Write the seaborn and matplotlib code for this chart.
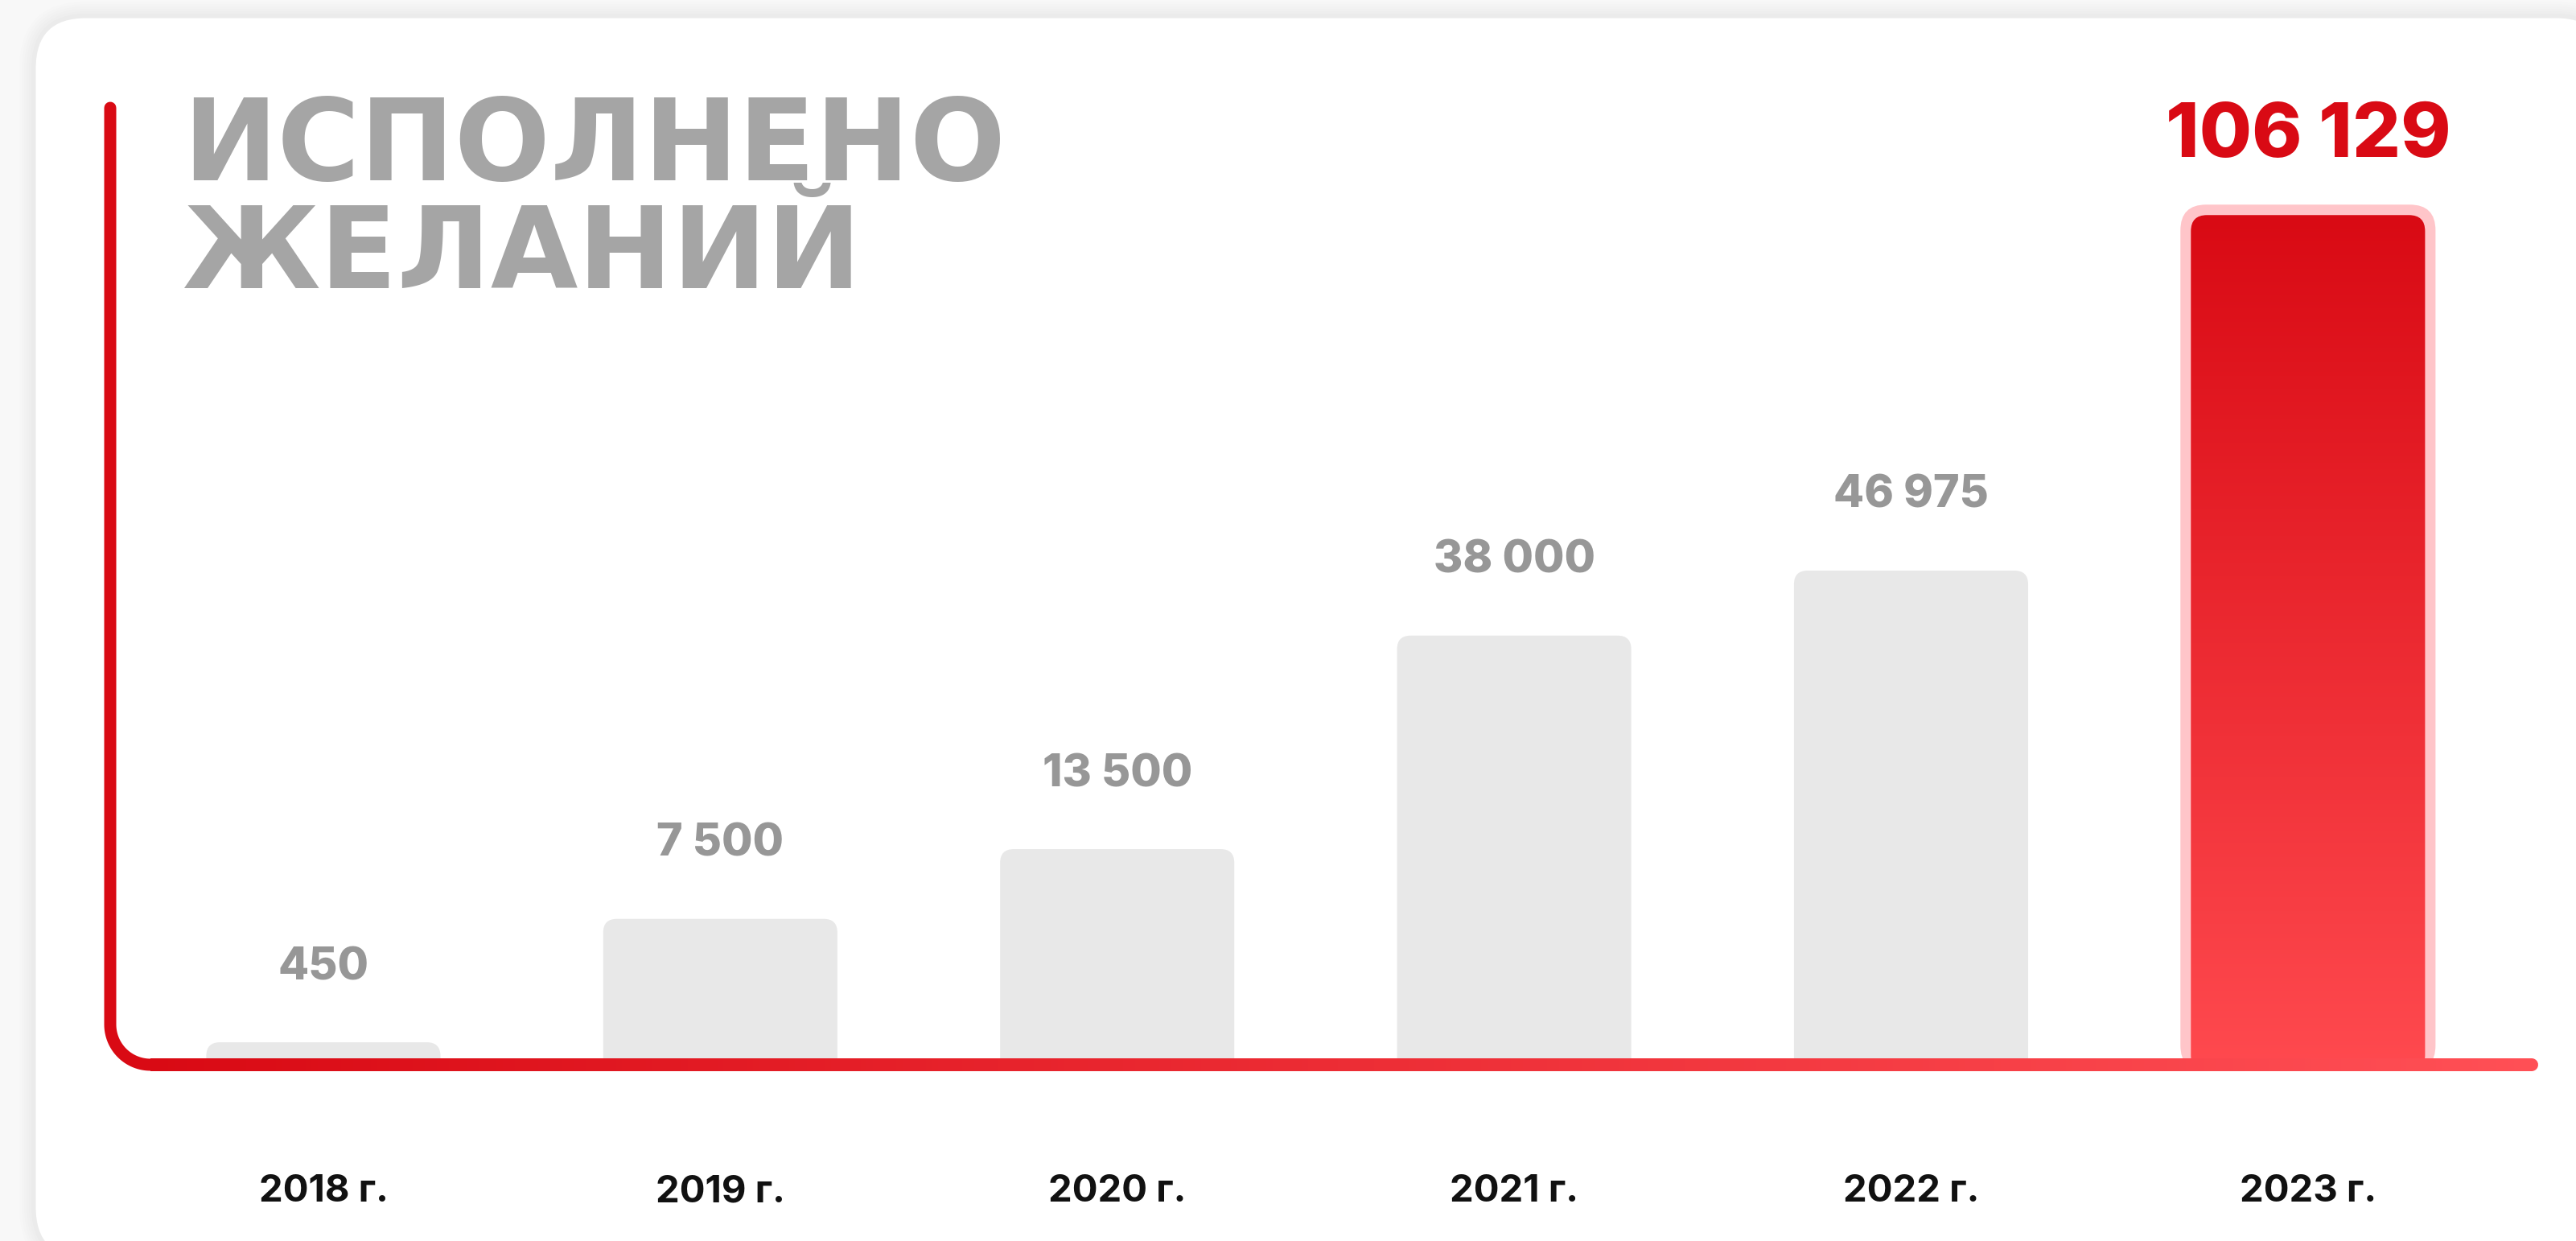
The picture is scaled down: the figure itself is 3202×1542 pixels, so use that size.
import numpy as np
import matplotlib
matplotlib.use("Agg")
import matplotlib.pyplot as plt
import seaborn as sns
from matplotlib.patches import FancyBboxPatch
from matplotlib.collections import LineCollection
from matplotlib.colors import LinearSegmentedColormap, to_rgb

# data
years = ["2018 г.", "2019 г.", "2020 г.", "2021 г.", "2022 г.", "2023 г."]
wishes = [450, 7500, 13500, 38000, 46975, 106129]
value_labels = ["450", "7 500", "13 500", "38 000", "46 975", "106 129"]
title_lines = ["ИСПОЛНЕНО", "ЖЕЛАНИЙ"]
highlight = "2023 г."

W, H, DPI = 3202, 1542, 100
POW = 0.665  # designer scale is compressed, roughly a power scale

dark_red = "#d90a14"
light_red = "#ff4a4f"
pink = "#ffc5c9"
bar_grey = "#e8e8e8"
label_grey = "#979797"
title_grey = "#a5a5a5"


def px(v):
    """pixels -> points"""
    return v * 72 / DPI


sns.set_theme(style="white")
plt.rcParams["font.family"] = ["Inter", "DejaVu Sans"]

fig = plt.figure(figsize=(W / DPI, H / DPI), dpi=DPI, facecolor="#f8f8f8")

# background layer, pixel coordinates
ov = fig.add_axes([0, 0, 1, 1], zorder=0)
ov.axis("off")

# card with soft shadow
for k in range(1, 7):
    ov.add_patch(FancyBboxPatch((42 - 3 * k, H - 1565 - 3 * k), 3200 + 6 * k, 1545 + 6 * k,
                                boxstyle=f"round,pad=0,rounding_size={65 + 3 * k}",
                                fc="black", ec="none", alpha=0.006))
ov.add_patch(FancyBboxPatch((42, H - 1565), 3200, 1545,
                            boxstyle="round,pad=0,rounding_size=65",
                            fc="white", ec="#ebebeb", lw=px(5)))

# main axes
ax = fig.add_axes([137 / W, (H - 1323) / H, 3018 / W, 1197 / H], zorder=1)
ax.patch.set_alpha(0)
sns.barplot(x=years, y=wishes, ax=ax, width=0.59, color=bar_grey, saturation=1)
ax.set_yscale("function", functions=(lambda v: np.power(np.clip(v, 0, None), POW),
                                     lambda t: np.power(np.clip(t, 0, None), 1 / POW)))
ax.set_xlim(-0.537, 5.58)
ax.set_ylim(0, (max(wishes) ** POW / 0.882) ** (1 / POW))
ax.set_yticks([])
ax.set_xlabel("")
ax.set_ylabel("")
sns.despine(ax=ax, left=True, bottom=True)
ax.tick_params(axis="x", length=0, pad=px(136))
for t in ax.get_xticklabels():
    t.set_fontsize(34)
    t.set_fontweight("bold")
    t.set_color("#111111")

# rounded bars drawn from the seaborn bar geometry
grad = LinearSegmentedColormap.from_list("redgrad", [light_red, dark_red])
for bar, year, val, lbl in zip(ax.patches, years, wishes, value_labels):
    x0, w, h = bar.get_x(), bar.get_width(), bar.get_height()
    (a, b), (c, d) = ax.transData.transform([(x0, 0), (x0 + w, h)])
    bar.set_visible(False)
    if year == highlight:
        ov.add_patch(FancyBboxPatch((a - 13, b - 8), c - a + 26, d - b + 21,
                                    boxstyle="round,pad=0,rounding_size=32",
                                    fc=pink, ec="none", zorder=3))
        inner = FancyBboxPatch((a, b - 8), c - a, d - b + 8,
                               boxstyle="round,pad=0,rounding_size=20",
                               fc="none", ec="none", zorder=4)
        ov.add_patch(inner)
        im = ov.imshow(np.linspace(0, 1, 256).reshape(-1, 1), cmap=grad, origin="lower",
                       extent=(a, c, b - 8, d), aspect="auto", zorder=4)
        im.set_clip_path(inner)
        ax.annotate(lbl, (x0 + w / 2, h), xytext=(0, px(72)), textcoords="offset points",
                    ha="center", va="baseline", fontsize=68, fontweight="heavy", color=dark_red)
    else:
        ax.annotate(lbl, (x0 + w / 2, h), xytext=(0, px(78)), textcoords="offset points",
                    ha="center", va="baseline", fontsize=40, fontweight="heavy", color=label_grey)
        ov.add_patch(FancyBboxPatch((a, b - 8), c - a, d - b + 8,
                                    boxstyle="round,pad=0,rounding_size=17",
                                    fc=bar_grey, ec="none", zorder=3))

# L-shaped axis line with rounded corner
xl, yb, r = 137, H - 1323, 50
ang = np.linspace(np.pi, 1.5 * np.pi, 40)
vx = np.concatenate([[xl, xl], xl + r + r * np.cos(ang)])
vy = np.concatenate([[H - 134, yb + r], yb + r + r * np.sin(ang)])
ov.plot(vx, vy, color=dark_red, lw=px(15), solid_capstyle="round", zorder=5)

xs = np.linspace(xl + r, 3147, 400)
segs = [[(xs[i], yb), (xs[i + 1] + 1, yb)] for i in range(len(xs) - 1)]
c0, c1 = np.array(to_rgb(dark_red)), np.array(to_rgb("#ff4f55"))
tt = np.linspace(0, 1, len(segs))
cols = [c0 + (c1 - c0) * t for t in tt]
ov.add_collection(LineCollection(segs, colors=cols, linewidths=px(16), capstyle="butt", zorder=5))
ov.plot([3146, 3147], [yb, yb], color="#ff4f55", lw=px(16), solid_capstyle="round", zorder=5)

ov.set_xlim(0, W)
ov.set_ylim(0, H)

# title
fig.text(227 / W, (H - 224) / H, title_lines[0], family="DejaVu Sans", weight="bold",
         fontsize=101, color=title_grey, va="baseline", ha="left")
fig.text(227 / W, (H - 358) / H, title_lines[1], family="DejaVu Sans", weight="bold",
         fontsize=101, color=title_grey, va="baseline", ha="left")

fig.savefig("out.png", dpi=DPI, facecolor=fig.get_facecolor())
